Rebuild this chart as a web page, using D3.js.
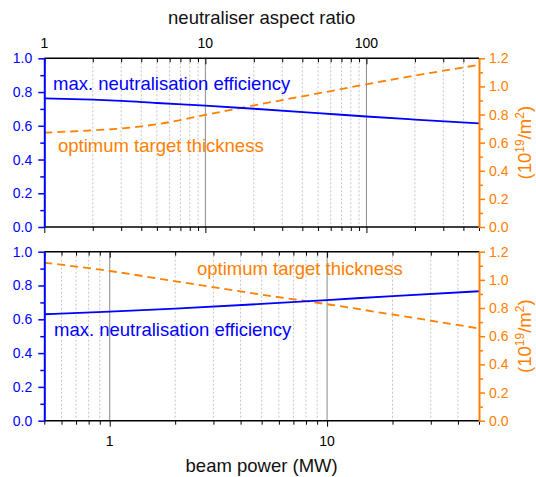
<!DOCTYPE html>
<html><head><meta charset="utf-8">
<script src="https://cdn.jsdelivr.net/npm/d3@7"></script>
<style>body{margin:0;background:#fff} svg{display:block} text{font-family:"Liberation Sans",Arial,sans-serif}</style>
</head><body><svg id="c" width="536" height="477"></svg>
<script>
// ---- data ----
const aspectRatio      = [1, 2, 3, 5, 10, 20, 50, 100, 200, 500];
const topEfficiency    = [0.763, 0.755, 0.748, 0.735, 0.719, 0.701, 0.675, 0.655, 0.637, 0.614];
const topThickness     = [0.671, 0.688, 0.701, 0.731, 0.797, 0.865, 0.950, 1.015, 1.077, 1.153];
const beamPower        = [0.5, 1, 2, 5, 10, 20, 50];
const bottomEfficiency = [0.630, 0.645, 0.663, 0.691, 0.714, 0.737, 0.766];
const bottomThickness  = [1.122, 1.063, 0.990, 0.895, 0.827, 0.754, 0.655];
const leftTicks   = [0, 0.2, 0.4, 0.6, 0.8, 1.0];
const rightTicks  = [0, 0.2, 0.4, 0.6, 0.8, 1.0, 1.2];
const topLabels   = [1, 10, 100];
const bottomLabels = [1, 10];

// ---- layout ----
const BLUE = "#0000ff", ORANGE = "#ff8000";
const L = 44.3, R = 479;
const panels = [{top: 58.3, bottom: 227}, {top: 251.7, bottom: 420.7}];
const svg = d3.select("#c");

function drawPanel(p, xDomain, xs, eff, thick, labels, textPos) {
  const x = d3.scaleLog().domain(xDomain).range([L, R]);
  const yL = d3.scaleLinear().domain([0, 1]).range([p.bottom, p.top]);
  const yR = d3.scaleLinear().domain([0, 1.2]).range([p.bottom, p.top]);
  const all = x.ticks();
  const isMajor = d => Math.abs(Math.log10(d) - Math.round(Math.log10(d))) < 1e-9;
  const inner = all.filter(d => x(d) > L + 1 && x(d) < R - 1);
  const g = svg.append("g");
  // gridlines
  g.selectAll(".gm").data(inner.filter(d => !isMajor(d))).join("line")
    .attr("x1", d => x(d)).attr("x2", d => x(d)).attr("y1", p.top).attr("y2", p.bottom)
    .attr("stroke", "#c4c4c4").attr("stroke-width", 1).attr("stroke-dasharray", "2,2");
  g.selectAll(".gM").data(inner.filter(isMajor)).join("line")
    .attr("x1", d => x(d)).attr("x2", d => x(d)).attr("y1", p.top).attr("y2", p.bottom)
    .attr("stroke", "#8a8a8a").attr("stroke-width", 1);
  // lines
  const lineE = d3.line().x((d, i) => x(xs[i])).y(d => yL(d)).curve(d3.curveMonotoneX);
  const lineT = d3.line().x((d, i) => x(xs[i])).y(d => yR(d)).curve(d3.curveMonotoneX);
  g.append("path").attr("d", lineT(thick)).attr("fill", "none").attr("stroke", ORANGE)
    .attr("stroke-width", 1.8).attr("stroke-dasharray", "8,5");
  g.append("path").attr("d", lineE(eff)).attr("fill", "none").attr("stroke", BLUE)
    .attr("stroke-width", 1.8);
  // labels
  g.append("text").attr("x", textPos.e[0]).attr("y", textPos.e[1]).attr("fill", BLUE)
    .attr("font-size", 18.5).text("max. neutralisation efficiency");
  g.append("text").attr("x", textPos.t[0]).attr("y", textPos.t[1]).attr("fill", ORANGE)
    .attr("font-size", 18.5).text("optimum target thickness");
  // top & bottom axes (ticks pointing down)
  const tickStyle = sel => sel.call(s => s.select(".domain").remove());
  [p.top, p.bottom].forEach(yy => {
    g.append("g").attr("transform", `translate(0,${yy})`)
      .call(d3.axisBottom(x).tickValues(all.filter(d => !isMajor(d))).tickSize(4).tickFormat(""))
      .call(tickStyle).selectAll("line").attr("stroke", "#000");
    g.append("g").attr("transform", `translate(0,${yy})`)
      .call(d3.axisBottom(x).tickValues(all.filter(isMajor)).tickSize(6).tickFormat(""))
      .call(tickStyle).selectAll("line").attr("stroke", "#000");
    g.append("line").attr("x1", L).attr("x2", R).attr("y1", yy).attr("y2", yy)
      .attr("stroke", "#000").attr("stroke-width", 1.5);
  });
  // left axis
  const la = g.append("g").attr("transform", `translate(${L},0)`);
  la.append("g").call(d3.axisLeft(yL).tickValues(d3.range(0.1, 1, 0.2)).tickSize(4).tickFormat(""))
    .call(tickStyle);
  la.append("g").call(d3.axisLeft(yL).tickValues(leftTicks).tickSize(6).tickPadding(6)
      .tickFormat(d3.format(".1f")).tickSizeOuter(0));
  la.selectAll("line").attr("stroke", BLUE).attr("stroke-width", 1.5);
  la.selectAll(".domain").attr("stroke", BLUE).attr("stroke-width", 2);
  la.selectAll("text").attr("fill", BLUE).attr("font-size", 14)
    .attr("font-family", '"Liberation Sans",Arial,sans-serif');
  // right axis
  const ra = g.append("g").attr("transform", `translate(${R},0)`);
  ra.append("g").call(d3.axisRight(yR).tickValues(d3.range(0.1, 1.2, 0.2)).tickSize(4).tickFormat(""))
    .call(tickStyle);
  ra.append("g").call(d3.axisRight(yR).tickValues(rightTicks).tickSize(6).tickPadding(4)
      .tickFormat(d3.format(".1f")).tickSizeOuter(0));
  ra.selectAll("line").attr("stroke", ORANGE).attr("stroke-width", 1.5);
  ra.selectAll(".domain").attr("stroke", ORANGE).attr("stroke-width", 2);
  ra.selectAll("text").attr("fill", ORANGE).attr("font-size", 14)
    .attr("font-family", '"Liberation Sans",Arial,sans-serif');
  // right axis title
  const cy = (p.top + p.bottom) / 2;
  const t = g.append("text").attr("transform", `translate(531,${cy}) rotate(-90)`)
    .attr("text-anchor", "middle").attr("fill", ORANGE).attr("font-size", 18.5);
  t.append("tspan").text("(10");
  t.append("tspan").attr("dy", -7).attr("font-size", 12).text("19");
  t.append("tspan").attr("dy", 7).text("/m");
  t.append("tspan").attr("dy", -7).attr("font-size", 12).text("2");
  t.append("tspan").attr("dy", 7).text(")");
  return x;
}

const xTop = drawPanel(panels[0], [1, 500], aspectRatio, topEfficiency, topThickness, topLabels,
  {e: [53, 90], t: [58, 151.5]});
const xBot = drawPanel(panels[1], [0.5, 50], beamPower, bottomEfficiency, bottomThickness, bottomLabels,
  {e: [54, 335.5], t: [197, 275]});

// top axis labels
svg.append("g").selectAll("text").data(topLabels).join("text")
  .attr("x", d => xTop(d)).attr("y", 48).attr("text-anchor", "middle")
  .attr("font-size", 14).attr("fill", "#000").text(d => d);
svg.append("text").attr("x", (L + R) / 2).attr("y", 23.5).attr("text-anchor", "middle")
  .attr("font-size", 18.5).attr("fill", "#111").text("neutraliser aspect ratio");
// bottom axis labels
svg.append("g").selectAll("text").data(bottomLabels).join("text")
  .attr("x", d => xBot(d)).attr("y", 446).attr("text-anchor", "middle")
  .attr("font-size", 14).attr("fill", "#000").text(d => d);
svg.append("text").attr("x", (L + R) / 2).attr("y", 472).attr("text-anchor", "middle")
  .attr("font-size", 18.5).attr("fill", "#111").text("beam power (MW)");
</script></body></html>
